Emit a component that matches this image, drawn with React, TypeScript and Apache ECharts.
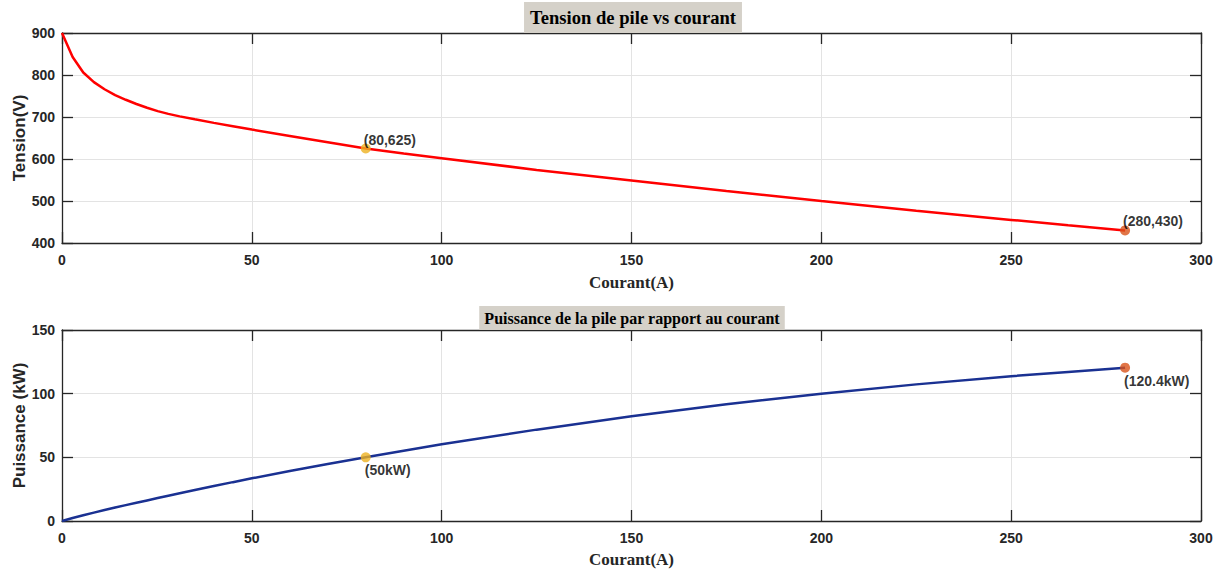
import React, { useEffect, useRef } from "react";
import * as echarts from "echarts";

// Stack current (A)
const current = [0, 2.8, 5.6, 8.4, 11.2, 14, 16.8, 19.6, 22.4, 25.2, 28, 31, 35, 40, 45, 50, 60, 70, 80, 90, 100, 125, 150, 175, 200, 225, 250, 265, 280];
// Stack voltage (V)
const voltage = [900, 843, 806, 783, 766, 752, 741, 731, 722, 714, 707.5, 701.5, 694.5, 686, 678, 670, 655, 640, 625, 613, 602, 574, 549, 524, 500, 477, 455, 442, 430];
// Stack power (kW)
const power = [0, 2.36, 4.51, 6.58, 8.58, 10.53, 12.45, 14.33, 16.17, 17.99, 19.81, 21.75, 24.31, 27.44, 30.51, 33.5, 39.3, 44.8, 50, 55.17, 60.2, 71.75, 82.35, 91.7, 100, 107.3, 113.75, 117.1, 120.4];

// Highlighted operating points
const markCurrent = [80, 280];
const markVoltage = [625, 430];
const markPower = [50, 120.4];
const markColors = ["#EDB120", "#D95319"];

const xTicks = { min: 0, max: 300, interval: 50 };
const vTicks = { min: 400, max: 900, interval: 100 };
const pTicks = { min: 0, max: 150, interval: 50 };

const SANS = "'Liberation Sans', Arial, sans-serif";
const SERIF = "'Liberation Serif', 'Times New Roman', serif";
const INK = "#262626";
const TITLE_X = 627;

function axisBase(show: boolean) {
  return {
    type: "value" as const,
    nameMoveOverlap: false,
    axisLine: { show: true, onZero: false, lineStyle: { color: INK, width: 1.3 } },
    axisTick: { show: true, inside: true, length: 11, lineStyle: { color: INK, width: 1.3 } },
    axisLabel: {
      show,
      color: INK,
      fontFamily: SANS,
      fontWeight: "bold" as const,
      fontSize: 14,
    },
    splitLine: { show, lineStyle: { color: "#e3e3e3", width: 1 } },
  };
}

export default function App() {
  const ref = useRef<HTMLDivElement>(null);

  useEffect(() => {
    if (!ref.current) return;
    const chart = echarts.init(ref.current, undefined, { renderer: "svg" });

    const vLine = current.map((c, i) => [c, voltage[i]]);
    const pLine = current.map((c, i) => [c, power[i]]);
    const vMarks = markCurrent.map((c, i) => ({
      value: [c, markVoltage[i]],
      itemStyle: { color: markColors[i] },
    }));
    const pMarks = markCurrent.map((c, i) => ({
      value: [c, markPower[i]],
      itemStyle: { color: markColors[i] },
    }));

    const markLabel = {
      show: true,
      position: "right" as const,
      distance: 0,
      color: "#000",
      fontFamily: SANS,
      fontWeight: "bold" as const,
      fontSize: 14,
    };

    const xName = {
      name: "Courant(A)",
      nameLocation: "middle" as const,
      nameTextStyle: { fontFamily: SERIF, fontWeight: "bold" as const, fontSize: 17, color: INK },
    };
    const yNameStyle = { fontFamily: SANS, fontWeight: "bold" as const, fontSize: 17, color: INK };

    chart.setOption({
      animation: false,
      backgroundColor: "#ffffff",
      title: [
        {
          text: "Tension de pile vs courant",
          left: TITLE_X,
          textAlign: "center",
          top: 2,
          backgroundColor: "#d5d1c9",
          padding: [6, 6, 6, 6],
          textStyle: { fontFamily: SERIF, fontWeight: "bold", fontSize: 18.6, color: "#000" },
        },
        {
          text: "Puissance de la pile par rapport au courant",
          left: TITLE_X,
          textAlign: "center",
          top: 306,
          backgroundColor: "#d5d1c9",
          padding: [4, 5, 4, 5],
          textStyle: { fontFamily: SERIF, fontWeight: "bold", fontSize: 16, color: "#000" },
        },
      ],
      grid: [
        { left: 62, right: 25, top: 33, height: 210, outerBoundsMode: "none" },
        { left: 62, right: 25, top: 330, height: 191, outerBoundsMode: "none" },
      ],
      xAxis: [
        { ...axisBase(true), ...xTicks, gridIndex: 0, position: "bottom", ...xName, nameGap: 31 },
        { ...axisBase(false), ...xTicks, gridIndex: 0, position: "top" },
        { ...axisBase(true), ...xTicks, gridIndex: 1, position: "bottom", ...xName, nameGap: 30 },
        { ...axisBase(false), ...xTicks, gridIndex: 1, position: "top" },
      ].map((a: any) => ({ ...a, axisLabel: { ...a.axisLabel, margin: 10 } })),
      yAxis: [
        {
          ...axisBase(true), ...vTicks, gridIndex: 0, position: "left",
          name: "Tension(V)", nameLocation: "middle", nameGap: 34, nameTextStyle: yNameStyle,
        },
        { ...axisBase(false), ...vTicks, gridIndex: 0, position: "right" },
        {
          ...axisBase(true), ...pTicks, gridIndex: 1, position: "left",
          name: "Puissance (kW)", nameLocation: "middle", nameGap: 34, nameTextStyle: yNameStyle,
        },
        { ...axisBase(false), ...pTicks, gridIndex: 1, position: "right" },
      ].map((a: any) => ({ ...a, axisLabel: { ...a.axisLabel, margin: 7 } })),
      series: [
        {
          type: "line",
          xAxisIndex: 0,
          yAxisIndex: 0,
          data: vLine,
          showSymbol: false,
          lineStyle: { color: "#ff0000", width: 2.5 },
          z: 3,
        },
        {
          type: "scatter",
          xAxisIndex: 0,
          yAxisIndex: 0,
          data: vMarks,
          symbolSize: 10,
          z: 4,
          label: {
            ...markLabel,
            offset: [-7, -9],
            formatter: (p: any) => `(${p.value[0]},${p.value[1]})`,
          },
        },
        {
          type: "line",
          xAxisIndex: 2,
          yAxisIndex: 2,
          data: pLine,
          showSymbol: false,
          lineStyle: { color: "#1a3192", width: 2.5 },
          z: 3,
        },
        {
          type: "scatter",
          xAxisIndex: 2,
          yAxisIndex: 2,
          data: pMarks,
          symbolSize: 10,
          z: 4,
          label: {
            ...markLabel,
            offset: [-6, 13],
            formatter: (p: any) => `(${p.value[1]}kW)`,
          },
        },
      ],
    });

    return () => chart.dispose();
  }, []);

  return (
    <div
      ref={ref}
      style={{ position: "absolute", left: 0, top: 0, width: 1226, height: 569 }}
    />
  );
}
